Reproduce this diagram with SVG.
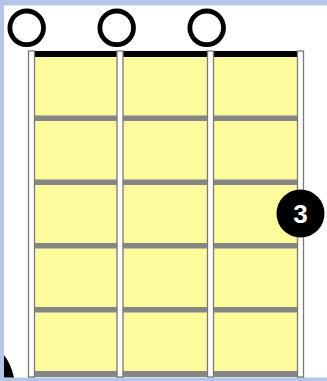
<svg xmlns="http://www.w3.org/2000/svg" width="327" height="381" viewBox="0 0 327 381">
<style>
.str{fill:#ffffff;stroke:#7a7a7a;stroke-width:1.3}
.fret{fill:#868686}
.open{fill:none;stroke:#000;stroke-width:4.8}
.dot{fill:#000}
.lbl{font-family:"Liberation Sans",Arial,sans-serif;font-weight:bold;font-size:26px;fill:#fff;text-anchor:middle}
</style>
<rect x="0" y="0" width="327" height="381" fill="#b3c6e8"/>
<rect x="4" y="5.5" width="323" height="372" fill="#ffffff"/>
<path d="M4,355 Q11,364 14,377.5 L4,377.5 Z" fill="#000"/>
<g id="board">
<rect x="31" y="54" width="270" height="320" fill="#fdfb9b"/>
<rect x="31" y="51" width="270" height="6" fill="#000"/>
<rect class="fret" x="31" y="115.5" width="270" height="5.5"/>
<rect class="fret" x="31" y="179.5" width="270" height="5.5"/>
<rect class="fret" x="31" y="243" width="270" height="5.5"/>
<rect class="fret" x="31" y="307" width="270" height="5.5"/>
<rect class="fret" x="31" y="371" width="270" height="6"/>
</g>
<g id="strings">
<rect class="str" x="28.5" y="51" width="6" height="326"/>
<rect class="str" x="117" y="51" width="6" height="326"/>
<rect class="str" x="207.5" y="51" width="6" height="326"/>
<rect class="str" x="297.5" y="51" width="6" height="326"/>
</g>
<g id="open1"><circle class="open" cx="26.7" cy="27.8" r="16.8"/></g>
<g id="open2"><circle class="open" cx="116.7" cy="27.8" r="16.8"/></g>
<g id="open3"><circle class="open" cx="206.7" cy="27.8" r="16.8"/></g>
<g id="finger3"><circle class="dot" cx="300.5" cy="213.5" r="24"/><text class="lbl" x="300.5" y="223">3</text></g>
</svg>
